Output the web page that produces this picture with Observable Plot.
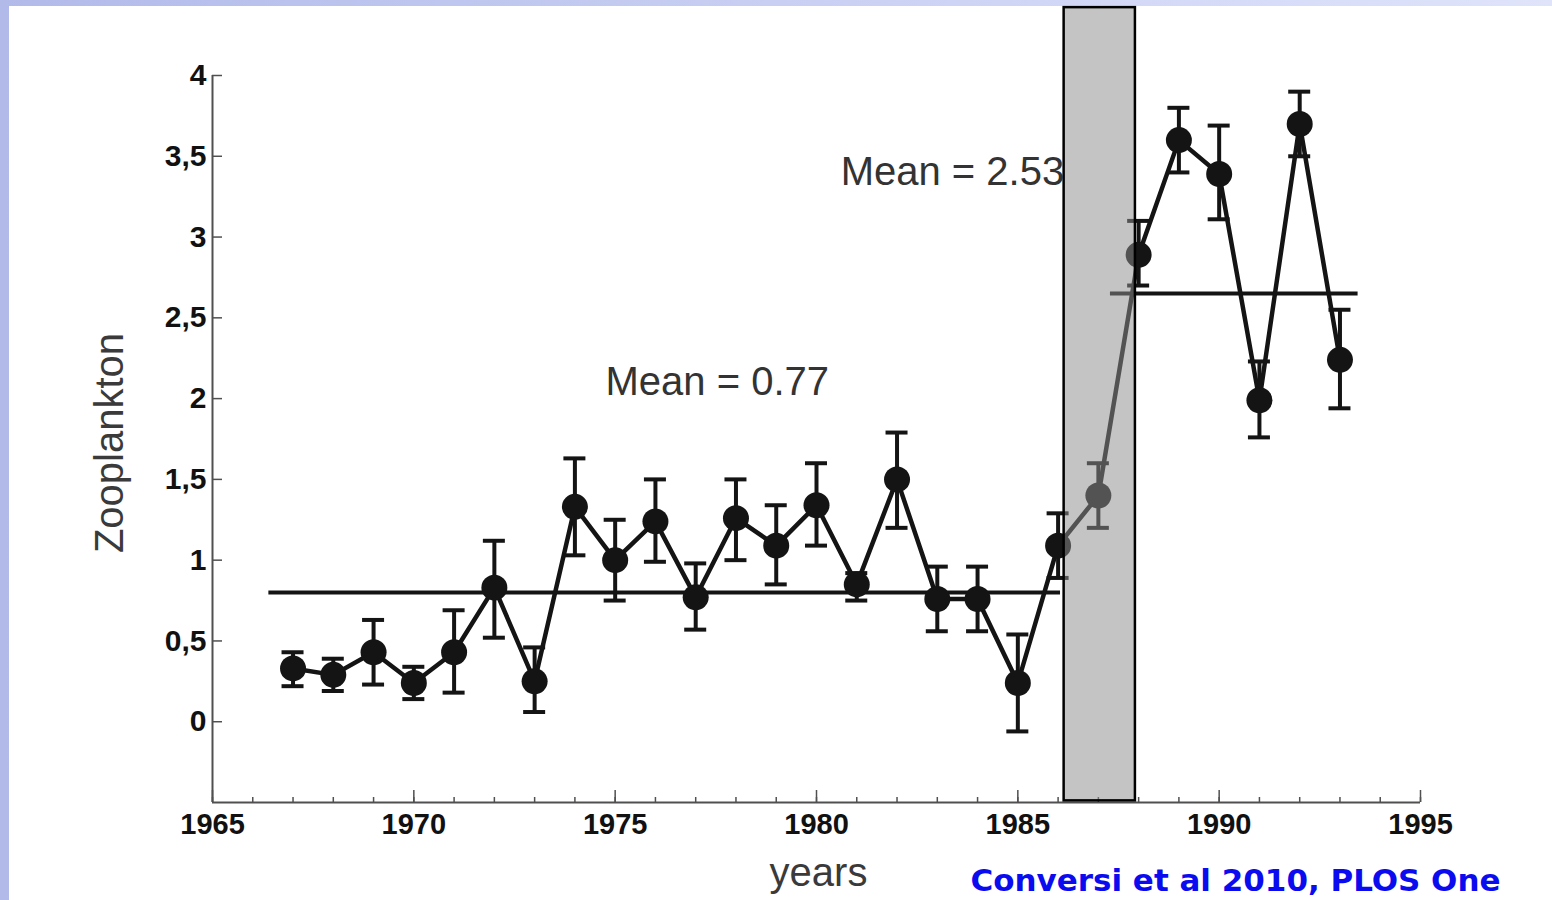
<!DOCTYPE html>
<html><head><meta charset="utf-8">
<script src="https://cdn.jsdelivr.net/npm/d3@7"></script>
<script src="https://cdn.jsdelivr.net/npm/@observablehq/plot@0.6"></script>
<style>
html,body{margin:0;padding:0;width:1552px;height:900px;overflow:hidden;background:linear-gradient(to right,#b2baea,#dfe4fb);}
#chart{position:absolute;left:9px;top:6px;}
#chart svg{background:#fff;display:block;}
</style></head><body><div id="chart"></div>
<script>
// Data
const years  = [1967,1968,1969,1970,1971,1972,1973,1974,1975,1976,1977,1978,1979,1980,1981,1982,1983,1984,1985,1986,1987,1988,1989,1990,1991,1992,1993];
const values = [0.33,0.29,0.43,0.24,0.43,0.83,0.25,1.33,1.00,1.24,0.77,1.26,1.09,1.34,0.85,1.50,0.76,0.76,0.24,1.09,1.40,2.89,3.60,3.39,1.99,3.70,2.24];
const upper  = [0.43,0.39,0.63,0.34,0.69,1.12,0.46,1.63,1.25,1.50,0.98,1.50,1.34,1.60,0.92,1.79,0.96,0.96,0.54,1.29,1.60,3.10,3.80,3.69,2.23,3.90,2.55];
const lower  = [0.22,0.19,0.23,0.14,0.18,0.52,0.06,1.03,0.75,0.99,0.57,1.00,0.85,1.09,0.75,1.20,0.56,0.56,-0.06,0.89,1.20,2.70,3.40,3.11,1.76,3.50,1.94];

const meanValues = [0.80, 2.65];
const meanStart  = [1966.4, 1987.3];
const meanEnd    = [1986.06, 1993.45];

const meanLabels      = ["Mean = 0.77", "Mean = 2.53"];
const meanLabelYears  = [1974.76, 1980.6];
const meanLabelValues = [2.10, 3.40];

const shadeYears  = [1986.15, 1987.92];
const shadeValues = [-0.49, 4.42];

const xTicksMajor = [1965,1970,1975,1980,1985,1990,1995];
const xTicksMinor = d3.range(1965, 1996);
const yTicks = [0,0.5,1,1.5,2,2.5,3,3.5,4];

const xLabel = "years";
const yLabel = "Zooplankton";
const citation = "Conversi et al 2010, PLOS One";

const data = years.map((year, i) => ({year, value: values[i], hi: upper[i], lo: lower[i]}));
const means = meanValues.map((v, i) => ({v, x1: meanStart[i], x2: meanEnd[i]}));
const labels = meanLabels.map((t, i) => ({t, x: meanLabelYears[i], y: meanLabelValues[i]}));
const shade = [{x1: shadeYears[0], x2: shadeYears[1], y1: shadeValues[0], y2: shadeValues[1]}];

const ink = "#141414";
const axisCol = "#505050";
const tickFont = "Liberation Sans, Arial, sans-serif";

const plot = Plot.plot({
  width: 1543, height: 894,
  marginLeft: 203, marginRight: 132, marginTop: 69, marginBottom: 98,
  x: {domain: [1965, 1995]},
  y: {domain: [-0.5, 4]},
  style: {background: "#fff", fontFamily: "Liberation Sans, Arial, sans-serif", overflow: "visible"},
  marks: [
    Plot.ruleX([1965], {stroke: axisCol, strokeWidth: 2}),
    Plot.ruleY([-0.5], {stroke: axisCol, strokeWidth: 2}),
    Plot.axisX({ticks: xTicksMinor, tickSize: -5, text: null, label: null, stroke: axisCol, strokeWidth: 1.5}),
    Plot.axisX({ticks: xTicksMajor, tickSize: -12, text: null, label: null, stroke: axisCol, strokeWidth: 1.5}),
    Plot.axisX({ticks: xTicksMajor, tickSize: 0, tickPadding: 11, tickFormat: d => String(d), label: null,
      fontSize: 29, fontWeight: "bold", fontFamily: tickFont, fill: "#111", stroke: "#111", strokeWidth: 1.3}),
    Plot.axisY({ticks: yTicks, tickSize: -10, text: null, label: null, stroke: axisCol, strokeWidth: 1.5}),
    Plot.axisY({ticks: yTicks, tickSize: 0, tickPadding: 6, tickFormat: d => String(d).replace(".", ","), label: null,
      fontSize: 30, fontWeight: "bold", fontFamily: tickFont, fill: "#111", stroke: "#111", strokeWidth: 1.3}),
    Plot.ruleY(means, {y: "v", x1: "x1", x2: "x2", stroke: ink, strokeWidth: 4}),
    Plot.line(data, {x: "year", y: "value", stroke: ink, strokeWidth: 4.5}),
    Plot.ruleX(data, {x: "year", y1: "lo", y2: "hi", stroke: ink, strokeWidth: 4}),
    Plot.ruleY(data, {y: "hi", x1: "year", x2: "year", insetLeft: -11, insetRight: -11, stroke: ink, strokeWidth: 4}),
    Plot.ruleY(data, {y: "lo", x1: "year", x2: "year", insetLeft: -11, insetRight: -11, stroke: ink, strokeWidth: 4}),
    Plot.dot(data, {x: "year", y: "value", r: 13, fill: ink}),
    Plot.text(labels, {x: "x", y: "y", text: "t", textAnchor: "start", lineAnchor: "middle", fontSize: 40, fill: "#333"}),
    Plot.rect(shade, {x1: "x1", x2: "x2", y1: "y1", y2: "y2", fill: "#8e8e8e", fillOpacity: 0.52}),
    Plot.rect(shade, {x1: "x1", x2: "x2", y1: "y1", y2: "y2", fill: "none", stroke: "#000", strokeWidth: 2.5}),
    Plot.text([yLabel], {text: d => d, frameAnchor: "left", dx: -102, dy: 4, rotate: -90, textAnchor: "middle", lineAnchor: "middle", fontSize: 40, fill: "#3a3a3a"}),
    Plot.text([xLabel], {text: d => d, frameAnchor: "bottom", dx: 2, dy: 55, textAnchor: "middle", lineAnchor: "top", fontSize: 40, fill: "#3a3a3a"}),
    Plot.text([citation], {text: d => d, frameAnchor: "bottom-left", dx: 758, dy: 66, textAnchor: "start", lineAnchor: "top",
      fontFamily: "Comic Sans MS, DejaVu Sans Condensed, DejaVu Sans, sans-serif", fontWeight: "bold", fontSize: 31, fill: "#0b0bef"})
  ]
});
document.getElementById("chart").appendChild(plot);
d3.select(plot).selectAll("text").filter(function(){ return this.textContent === citation; })
  .attr("textLength", 530).attr("lengthAdjust", "spacingAndGlyphs");
</script>
</body></html>
